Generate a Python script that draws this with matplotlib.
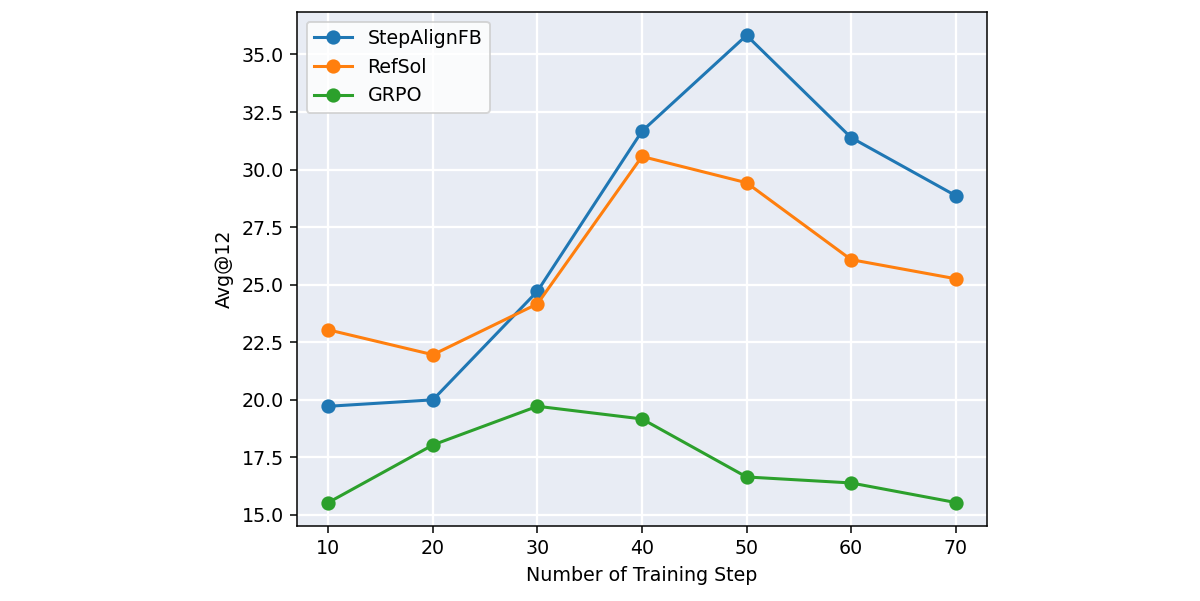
import matplotlib
matplotlib.use("Agg")
import matplotlib.pyplot as plt

steps = [10, 20, 30, 40, 50, 60, 70]
stepalignfb = [19.72, 20.00, 24.72, 31.67, 35.83, 31.39, 28.87]
refsol = [23.04, 21.96, 24.17, 30.57, 29.43, 26.09, 25.26]
grpo = [15.54, 18.04, 19.72, 19.17, 16.65, 16.39, 15.54]

DPI = 137
fig = plt.figure(figsize=(1200 / DPI, 601 / DPI), dpi=DPI)
ax = fig.add_axes([0.2475, 0.125, 0.575, 0.855])
ax.set_facecolor("#E8ECF4")
ax.grid(True, color="white", linewidth=1.2)
ax.set_axisbelow(True)

ax.plot(steps, stepalignfb, marker="o", color="#1f77b4", label="StepAlignFB", markersize=6.5, linewidth=1.6)
ax.plot(steps, refsol, marker="o", color="#ff7f0e", label="RefSol", markersize=6.5, linewidth=1.6)
ax.plot(steps, grpo, marker="o", color="#2ca02c", label="GRPO", markersize=6.5, linewidth=1.6)

ax.set_xticks(steps)
ax.set_yticks([15.0, 17.5, 20.0, 22.5, 25.0, 27.5, 30.0, 32.5, 35.0])
ax.set_xlabel("Number of Training Step", fontsize=10)
ax.set_ylabel("Avg@12", fontsize=10)
ax.legend(loc="upper left", fontsize=10)

fig.savefig("out.png", dpi=DPI)
